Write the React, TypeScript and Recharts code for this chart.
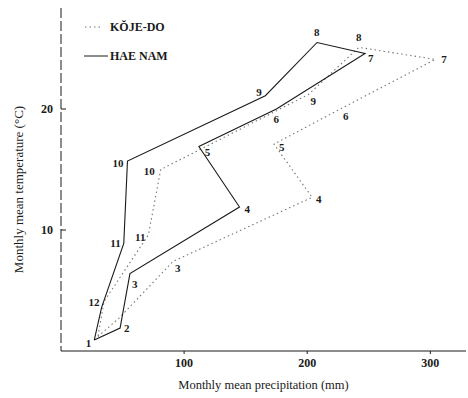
import React from 'react';
import { LineChart, Line, XAxis, YAxis, LabelList, Legend, Label } from 'recharts';

const months = [1, 2, 3, 4, 5, 6, 7, 8, 9, 10, 11, 12];
const haenamPrecip = [27, 48, 56, 145, 112, 175, 247, 208, 166, 54, 51, 33];
const haenamTemp = [0.9, 1.9, 6.4, 11.9, 16.9, 20.0, 24.6, 25.5, 21.1, 15.7, 8.9, 3.6];
const kojePrecip = [30, 47, 91, 204, 173, 225, 304, 242, 201, 81, 71, 35];
const kojeTemp = [1.2, 2.7, 7.4, 12.7, 17.1, 19.9, 24.1, 25.1, 21.2, 15.0, 9.6, 4.1];
const xTicks = [100, 200, 300];
const yTicks = [10, 20];
const seriesNames = ['KŎJE-DO', 'HAE NAM'];

const build = (p: number[], t: number[]) => {
  const rows = months.map((m, i) => ({ month: m, p: p[i], t: t[i] }));
  return [...rows, { ...rows[0], closing: true }];
};
const haenamData = build(haenamPrecip, haenamTemp);
const kojeData = build(kojePrecip, kojeTemp);

const FONT = '"Liberation Serif", "DejaVu Serif", serif';
const INK = '#1a1a1a';

// label placement per month: [dx, dy, anchor]
const haenamPlace: Record<number, [number, number, string]> = {
  1: [-3, 3, 'end'], 2: [4, 0, 'start'], 3: [2, 10, 'start'], 4: [5, 2, 'start'],
  5: [6, 5, 'start'], 6: [-3, 10, 'start'], 7: [3, 5, 'start'], 8: [-3, -10, 'start'],
  9: [-9, -4, 'start'], 10: [-4, 2, 'end'], 11: [-3, 0, 'end'], 12: [-2, -5, 'end'],
};
const kojePlace: Record<number, [number, number, string]> = {
  3: [2, 7, 'start'], 4: [4, 2, 'start'], 5: [5, 3, 'start'], 6: [5, 6, 'start'],
  7: [6, 0, 'start'], 8: [-3, -10, 'start'], 9: [2, 6, 'start'], 10: [-6, 1, 'end'],
  11: [-3, 2, 'end'],
};

const makeLabel = (place: Record<number, [number, number, string]>) => (props: any) => {
  const { x, y, value, index } = props;
  if (index >= months.length) return null;
  const pl = place[value as number];
  if (!pl) return null;
  return (
    <text
      x={x + pl[0]}
      y={y + pl[1]}
      textAnchor={pl[2] as any}
      dominantBaseline="central"
      fontFamily={FONT}
      fontWeight="bold"
      fontSize={11}
      fill={INK}
    >
      {value}
    </text>
  );
};

const LegendBox = () => (
  <div style={{ fontFamily: FONT, fontWeight: 'bold', fontSize: 12, color: INK, lineHeight: '14px' }}>
    <div style={{ display: 'flex', alignItems: 'center', height: 14 }}>
      <svg width={26} height={6}>
        <line x1={1} y1={3} x2={16} y2={3} stroke="#777" strokeWidth={1} strokeDasharray="1.5 3" />
      </svg>
      <span>{seriesNames[0]}</span>
    </div>
    <div style={{ display: 'flex', alignItems: 'center', height: 14, marginTop: 15 }}>
      <svg width={26} height={6}>
        <line x1={0} y1={3} x2={24} y2={3} stroke={INK} strokeWidth={1} />
      </svg>
      <span>{seriesNames[1]}</span>
    </div>
  </div>
);

const YTitle = (props: any) => {
  const vb = props.viewBox || { x: 0, y: 8, width: 61, height: 343 };
  const cx = vb.x + 18;
  const cy = vb.y + vb.height / 2 + 10;
  return (
    <text
      x={cx}
      y={cy}
      transform={`rotate(-90 ${cx} ${cy})`}
      textAnchor="middle"
      dominantBaseline="central"
      fontFamily={FONT}
      fontSize={13}
      fill={INK}
    >
      Monthly mean temperature (°C)
    </text>
  );
};

export default function App() {
  return (
    <div style={{ position: 'absolute', left: 0, top: 0, background: '#fff' }}>
      <LineChart width={468} height={398} margin={{ top: 8, right: 2, bottom: 0, left: 0 }}>
        <XAxis
          xAxisId={0}
          dataKey="p"
          type="number"
          domain={[0, 329]}
          ticks={xTicks}
          allowDataOverflow
          height={47}
          tickSize={3}
          tickMargin={4}
          stroke={INK}
          tick={{ fontFamily: FONT, fontWeight: 'bold', fontSize: 12, fill: INK }}
        >
          <Label
            value="Monthly mean precipitation (mm)"
            position="insideBottom"
            offset={9}
            style={{ fontFamily: FONT, fontSize: 12.5, fill: INK }}
          />
        </XAxis>
        <XAxis
          xAxisId="top"
          orientation="top"
          type="number"
          domain={[0, 329]}
          height={0}
          tick={false}
          tickLine={false}
          stroke="#444"
          strokeDasharray="14 2"
        />
        <YAxis
          yAxisId={0}
          dataKey="t"
          type="number"
          domain={[0, 28.35]}
          ticks={yTicks}
          allowDataOverflow
          width={61}
          tickSize={-5}
          tickMargin={13}
          stroke={INK}
          strokeDasharray="10 3"
          tick={{ fontFamily: FONT, fontWeight: 'bold', fontSize: 12, fill: INK }}
        >
          <Label content={<YTitle />} />
        </YAxis>
        <YAxis
          yAxisId="right"
          orientation="right"
          type="number"
          domain={[0, 28.35]}
          width={0}
          tick={false}
          tickLine={false}
          stroke="#999"
          strokeDasharray="2 5"
        />
        <Legend
          layout="vertical"
          align="center"
          verticalAlign="middle"
          content={<LegendBox />}
          wrapperStyle={{ left: 84, top: 20, width: 'auto', height: 'auto' }}
        />
        <Line
          name={seriesNames[0]}
          data={kojeData}
          dataKey="t"
          type="linear"
          stroke="#777"
          strokeWidth={1.1}
          strokeDasharray="1.5 3"
          dot={false}
          activeDot={false}
          isAnimationActive={false}
        >
          <LabelList dataKey="month" content={makeLabel(kojePlace)} />
        </Line>
        <Line
          name={seriesNames[1]}
          data={haenamData}
          dataKey="t"
          type="linear"
          stroke={INK}
          strokeWidth={1.1}
          dot={false}
          activeDot={false}
          isAnimationActive={false}
        >
          <LabelList dataKey="month" content={makeLabel(haenamPlace)} />
        </Line>
      </LineChart>
    </div>
  );
}
